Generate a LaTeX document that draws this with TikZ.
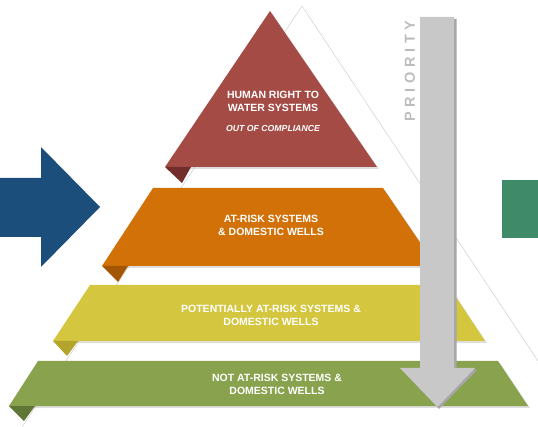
\documentclass[tikz,border=0pt]{standalone}
\usepackage{fontspec}
\setmainfont{Liberation Sans}
\begin{document}
\definecolor{tierred}{HTML}{A54B45}
\definecolor{tierredfold}{HTML}{722D2A}
\definecolor{tierorange}{HTML}{D27108}
\definecolor{tierorangefold}{HTML}{A35705}
\definecolor{tieryellow}{HTML}{D4C63F}
\definecolor{tieryellowfold}{HTML}{B3A52C}
\definecolor{tiergreen}{HTML}{88A24E}
\definecolor{tiergreenfold}{HTML}{5F7634}
\definecolor{inflowblue}{HTML}{1B4E7B}
\definecolor{outflowgreen}{HTML}{3F8A68}
\definecolor{prioritygray}{HTML}{C8C8C8}
\definecolor{prioritytext}{HTML}{BDBDBD}
\begin{tikzpicture}[x=1pt,y=-1pt,
  bandshadow/.style={fill=black,opacity=0.13,shift={(1.8,1.8)}},
  bandtext/.style={text=white,font=\bfseries\fontsize{10.5}{13}\selectfont,align=center,inner sep=0pt},
  outline/.style={draw=black!22,line width=0.4pt}]
\useasboundingbox (0,0) rectangle (538,427);

% thin outline of the large background triangle
\draw[outline] (302,6) -- (22,427);
\draw[outline] (302,6) -- (538,361);

% top tier
\fill[bandshadow] (270,11) -- (377,167) -- (165,167) -- cycle;
\fill[tierred] (270,11) -- (377,167) -- (165,167) -- cycle;
\fill[tierredfold] (165,167) -- (191,167) -- (182,183) -- cycle;

% second tier
\fill[bandshadow] (153,188) -- (383,188) -- (436,266) -- (102,266) -- cycle;
\fill[tierorange] (153,188) -- (383,188) -- (436,266) -- (102,266) -- cycle;
\fill[tierorangefold] (102,266) -- (128,266) -- (118,282) -- cycle;

% third tier
\fill[bandshadow] (90,285) -- (448,285) -- (485,341) -- (53,341) -- cycle;
\fill[tieryellow] (90,285) -- (448,285) -- (485,341) -- (53,341) -- cycle;
\fill[tieryellowfold] (53,341) -- (78,341) -- (67,356) -- cycle;

% bottom tier
\fill[bandshadow] (38,361) -- (498,361) -- (528,406) -- (9,406) -- cycle;
\fill[tiergreen] (38,361) -- (498,361) -- (528,406) -- (9,406) -- cycle;
\fill[tiergreenfold] (9,406) -- (35,406) -- (24,421) -- cycle;

% tier labels
\node[bandtext] (toplabel) at (273,101) {HUMAN RIGHT TO\\WATER SYSTEMS};
\node[text=white,font=\bfseries\itshape\fontsize{8.7}{10}\selectfont,inner sep=0pt] (topsub) at (273,129) {OUT OF COMPLIANCE};
\node[bandtext] (secondlabel) at (271,225.5) {AT-RISK SYSTEMS\\\& DOMESTIC WELLS};
\node[bandtext] (thirdlabel) at (271,315) {POTENTIALLY AT-RISK SYSTEMS \&\\DOMESTIC WELLS};
\node[bandtext] (bottomlabel) at (277,384) {NOT AT-RISK SYSTEMS \&\\DOMESTIC WELLS};

% priority arrow
\fill[black!35] (422,19) -- (456.5,19) -- (456.5,370) -- (477,370) -- (439,409) -- (402,370) -- (422,370) -- cycle;
\fill[prioritygray] (420,17) -- (454,17) -- (454,368) -- (475,368) -- (437.5,407) -- (400,368) -- (420,368) -- cycle;
\node[rotate=90,text=prioritytext,font=\bfseries\fontsize{14.5}{14.5}\selectfont,inner sep=0pt] (prioritylabel) at (410,71)
  {P\kern4.6pt R\kern4.6pt I\kern4.6pt O\kern4.6pt R\kern4.6pt I\kern4.6pt T\kern4.6pt Y};

% incoming arrow on the left
\fill[inflowblue] (0,178) -- (41,178) -- (41,147) -- (100,207) -- (41,267) -- (41,237) -- (0,237) -- cycle;

% outgoing block on the right
\fill[outflowgreen] (502,180) rectangle (538,238);
\end{tikzpicture}
\end{document}
